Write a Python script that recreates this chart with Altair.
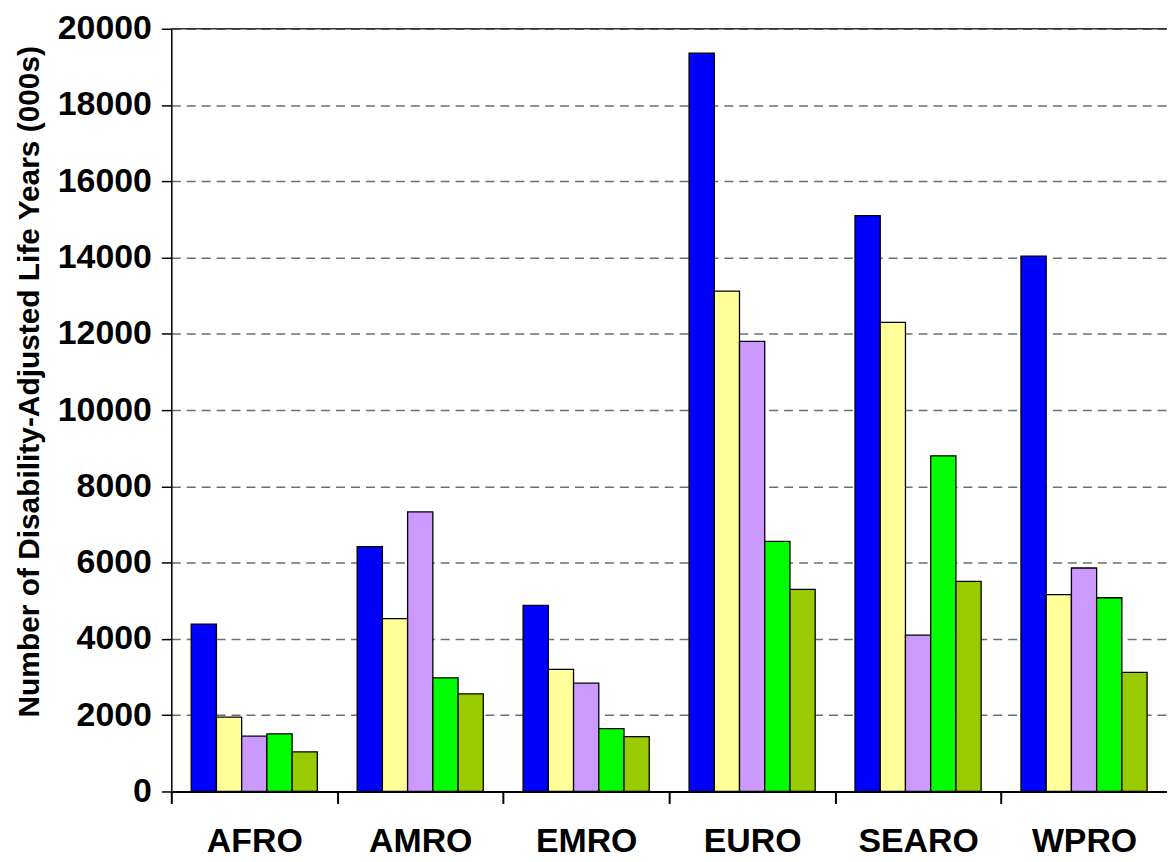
import altair as alt
import pandas as pd

regions = ["AFRO", "AMRO", "EMRO", "EURO", "SEARO", "WPRO"]
series = ["Series 1", "Series 2", "Series 3", "Series 4", "Series 5"]
colors = ["#0000FF", "#FFFF99", "#CC99FF", "#00FF00", "#99CC00"]

s1 = [4390, 6420, 4880, 19360, 15100, 14040]
s2 = [1950, 4530, 3200, 13120, 12300, 5160]
s3 = [1450, 7330, 2840, 11800, 4100, 5860]
s4 = [1510, 2980, 1650, 6560, 8800, 5080]
s5 = [1040, 2560, 1440, 5300, 5510, 3120]

y_max = 20000
y_ticks = list(range(0, 20001, 2000))

rows = []
for name, vals in zip(series, [s1, s2, s3, s4, s5]):
    for r, v in zip(regions, vals):
        rows.append({"region": r, "series": name, "value": v})
df = pd.DataFrame(rows)

font = "Liberation Sans, Arial, sans-serif"
plot_w = 1000
step = plot_w / len(regions)

bars = alt.Chart(df).mark_bar(stroke="black", strokeWidth=1.3).encode(
    x=alt.X(
        "region:N",
        sort=regions,
        scale=alt.Scale(paddingInner=0.24, paddingOuter=0.12),
        axis=alt.Axis(
            title=None,
            labelAngle=0,
            labelFont=font,
            labelFontSize=34,
            labelFontWeight="bold",
            labelColor="black",
            labelPadding=21,
            labelOffset=step / 2,
            tickOffset=-step / 2,
            bandPosition=0.5,
            tickSize=12,
            tickWidth=2,
            tickColor="black",
            domainColor="black",
            domainWidth=2,
            grid=False,
        ),
    ),
    xOffset=alt.XOffset("series:N", sort=series,
                        scale=alt.Scale(paddingInner=0, paddingOuter=0)),
    y=alt.Y(
        "value:Q",
        scale=alt.Scale(domain=[0, y_max], nice=False),
        axis=alt.Axis(
            title="Number of Disability-Adjusted Life Years (000s)",
            titleFont=font,
            titleFontSize=30,
            titleFontWeight="bold",
            titleColor="black",
            titleAngle=270,
            titleAlign="center",
            titleBaseline="middle",
            titleX=-142,
            titleY=354,
            values=y_ticks,
            format="d",
            labelFont=font,
            labelFontSize=34,
            labelFontWeight="bold",
            labelColor="black",
            labelPadding=10,
            tickSize=10,
            tickColor="black",
            tickWidth=1.5,
            domainColor="black",
            domainWidth=1.5,
            grid=True,
            gridColor="#6e6e6e",
            gridDash=[9, 6],
            gridWidth=1.5,
        ),
    ),
    color=alt.Color("series:N", sort=series,
                    scale=alt.Scale(domain=series, range=colors), legend=None),
)

top = alt.Chart(pd.DataFrame({"v": [y_max]})).mark_rule(
    color="#333333", strokeWidth=1.5
).encode(y="v:Q")

chart = alt.layer(top, bars).properties(
    width=plot_w,
    height=766,
    autosize=alt.AutoSizeParams(type="none"),
    padding={"left": 164, "top": 19, "right": 0, "bottom": 68},
    background="white",
).configure_view(stroke=None)

chart.save("out.html", embed_options={"renderer": "svg", "actions": False})
